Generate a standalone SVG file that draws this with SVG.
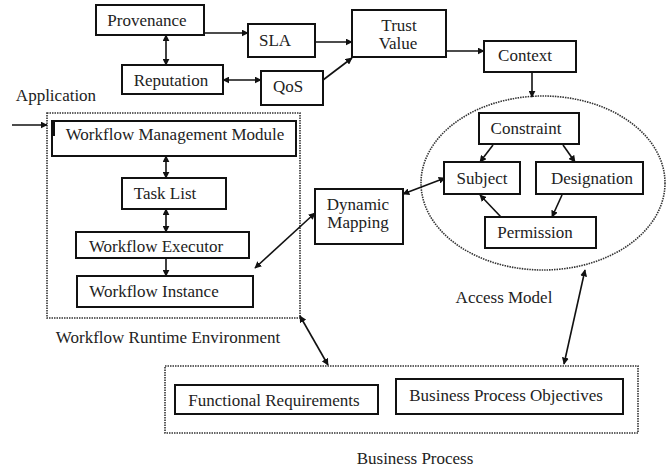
<svg xmlns="http://www.w3.org/2000/svg" width="670" height="469" viewBox="0 0 670 469">
<defs>
<style>
text{font-family:'Liberation Serif','Times New Roman','DejaVu Serif',serif;font-size:17px;fill:#222;text-anchor:middle}
.box{fill:#fff;stroke:#111;stroke-width:2}
.dot{fill:none;stroke:#333;stroke-width:1.6;stroke-dasharray:1.5 1}
.c{fill:none;stroke:#111;stroke-width:1.6}
</style>
<marker id="ah" viewBox="0 0 10 10" refX="9" refY="5" markerWidth="7" markerHeight="7" markerUnits="userSpaceOnUse" orient="auto-start-reverse">
<path d="M0,0 L10,5 L0,10 z" fill="#111"/>
</marker>
</defs>
<rect width="670" height="469" fill="#fff"/>

<g id="containers">
<rect class="dot" x="47" y="113" width="253" height="205"/>
<ellipse class="dot" cx="543" cy="183" rx="122" ry="87"/>
<rect class="dot" x="165" y="366" width="473" height="67"/>
</g>

<g id="connectors">
<line class="c" x1="204" y1="33" x2="248" y2="33" marker-end="url(#ah)"/>
<line class="c" x1="166" y1="35" x2="166" y2="65" marker-start="url(#ah)" marker-end="url(#ah)"/>
<line class="c" x1="223" y1="80" x2="261" y2="80" marker-start="url(#ah)" marker-end="url(#ah)"/>
<line class="c" x1="315" y1="42" x2="352" y2="42" marker-end="url(#ah)"/>
<line class="c" x1="323" y1="80" x2="352" y2="58" marker-end="url(#ah)"/>
<line class="c" x1="446" y1="51" x2="484" y2="51" marker-end="url(#ah)"/>
<line class="c" x1="532" y1="72" x2="532" y2="97" marker-end="url(#ah)"/>
<line class="c" x1="12" y1="125" x2="47" y2="125" marker-end="url(#ah)"/>
<line class="c" x1="166" y1="156" x2="166" y2="178" marker-start="url(#ah)" marker-end="url(#ah)"/>
<line class="c" x1="166" y1="209" x2="166" y2="232" marker-start="url(#ah)" marker-end="url(#ah)"/>
<line class="c" x1="166" y1="258" x2="166" y2="276" marker-end="url(#ah)"/>
<line class="c" x1="255" y1="268" x2="315" y2="213" marker-start="url(#ah)" marker-end="url(#ah)"/>
<line class="c" x1="403" y1="194" x2="445" y2="178" marker-start="url(#ah)" marker-end="url(#ah)"/>
<line class="c" x1="493" y1="145" x2="480" y2="162" marker-end="url(#ah)"/>
<line class="c" x1="563" y1="145" x2="575" y2="162" marker-end="url(#ah)"/>
<line class="c" x1="562" y1="195" x2="552" y2="217" marker-end="url(#ah)"/>
<line class="c" x1="501" y1="217" x2="480" y2="195" marker-end="url(#ah)"/>
<line class="c" x1="300" y1="316" x2="328" y2="365" marker-start="url(#ah)" marker-end="url(#ah)"/>
<line class="c" x1="585" y1="270" x2="564" y2="364" marker-start="url(#ah)" marker-end="url(#ah)"/>
</g>

<g id="labels" font-family="'Liberation Serif', 'DejaVu Serif', serif">
<g id="provenance"><rect class="box" x="96" y="5" width="108" height="30"/><text x="147" y="26">Provenance</text></g>
<g id="sla"><rect class="box" x="248" y="24" width="67" height="33"/><text x="275" y="46">SLA</text></g>
<g id="reputation"><rect class="box" x="122" y="65" width="101" height="29"/><text x="171" y="86">Reputation</text></g>
<g id="qos"><rect class="box" x="261" y="71" width="62" height="34"/><text x="288" y="92">QoS</text></g>
<g id="trust-value"><rect class="box" x="352" y="10" width="94" height="47"/><text x="399" y="31">Trust</text><text x="398" y="49">Value</text></g>
<g id="context"><rect class="box" x="484" y="41" width="92" height="31"/><text x="525" y="61">Context</text></g>
<g id="application"><text x="56" y="101">Application</text></g>

<g id="wmm"><rect class="box" x="52" y="121" width="244" height="35"/><rect x="52" y="122" width="3" height="14" fill="#111"/><text x="175" y="140">Workflow Management Module</text></g>
<g id="task-list"><rect class="box" x="122" y="178" width="104" height="31"/><text x="165" y="199">Task List</text></g>
<g id="workflow-executor"><rect class="box" x="76" y="232" width="173" height="26"/><text x="156" y="252">Workflow Executor</text></g>
<g id="workflow-instance"><rect class="box" x="77" y="276" width="176" height="31"/><text x="154" y="297">Workflow Instance</text></g>
<g id="wre-label"><text x="168" y="343">Workflow Runtime Environment</text></g>

<g id="dynamic-mapping"><rect class="box" x="315" y="189" width="88" height="55"/><text x="358" y="210">Dynamic</text><text x="358" y="228">Mapping</text></g>

<g id="constraint"><rect class="box" x="479" y="113" width="100" height="31"/><text x="526" y="134">Constraint</text></g>
<g id="subject"><rect class="box" x="444" y="162" width="76" height="32"/><text x="482" y="184">Subject</text></g>
<g id="designation"><rect class="box" x="536" y="162" width="107" height="32"/><text x="592" y="184">Designation</text></g>
<g id="permission"><rect class="box" x="485" y="217" width="111" height="31"/><text x="535" y="238">Permission</text></g>
<g id="access-model-label"><text x="504" y="303">Access Model</text></g>

<g id="functional-requirements"><rect class="box" x="175" y="385" width="203" height="29"/><text x="274" y="406">Functional Requirements</text></g>
<g id="bp-objectives"><rect class="box" x="396" y="379" width="227" height="35"/><text x="506" y="401">Business Process Objectives</text></g>
<g id="bp-label"><text x="415" y="464">Business Process</text></g>
</g>
</svg>
